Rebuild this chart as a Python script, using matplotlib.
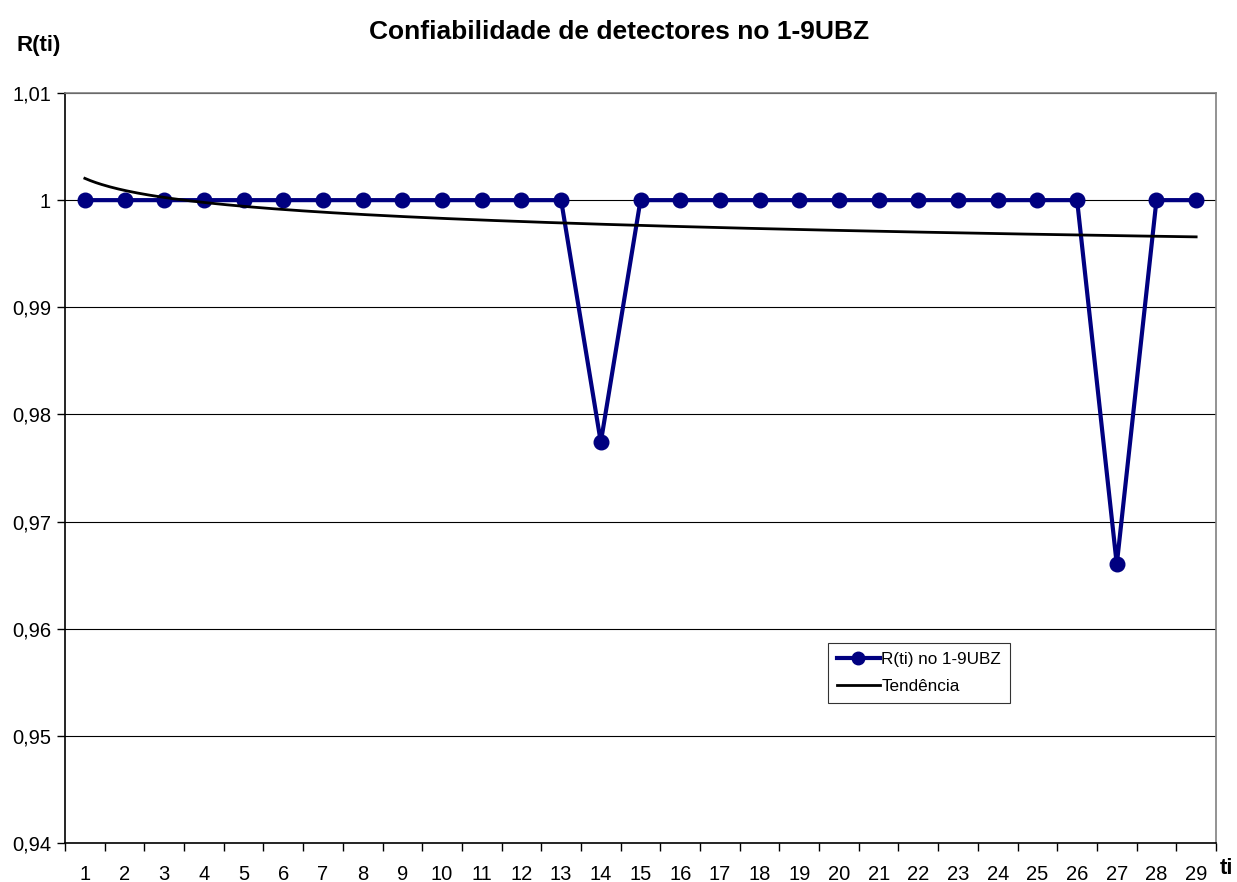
import numpy as np
import matplotlib
matplotlib.use("Agg")
import matplotlib.pyplot as plt
from matplotlib.ticker import FixedLocator, FuncFormatter

plt.rcParams['font.family'] = ['Liberation Sans', 'DejaVu Sans']

ti = list(range(1, 30))
r_values = [1, 1, 1, 1, 1, 1, 1, 1, 1, 1, 1, 1, 1, 0.9774, 1,
            1, 1, 1, 1, 1, 1, 1, 1, 1, 1, 1, 0.966, 1, 1]
title = "Confiabilidade de detectores no 1-9UBZ"
series_label = "R(ti) no 1-9UBZ"
trend_label = "Tendência"
y_ticks = [0.94, 0.95, 0.96, 0.97, 0.98, 0.99, 1.00, 1.01]

x = np.array(ti, dtype=float)
y = np.array(r_values, dtype=float)
# logarithmic trend line (Excel style)
b, a = np.polyfit(np.log(x), y, 1)
xt = np.linspace(1, 29, 400)
yt = a + b * np.log(xt)

fig = plt.figure(figsize=(12.37, 8.82), dpi=100)
ax = fig.add_axes([65/1237, 1 - 843/882, (1216 - 65)/1237, (843 - 93)/882])

ax.plot(x, y, color='#000080', lw=3.0, marker='o', ms=10.5, zorder=3, label=series_label)
ax.plot(xt, yt, color='black', lw=2.0, zorder=4, label=trend_label)

ax.set_xlim(0.5, 29.5)
ax.set_ylim(0.94, 1.01)
ax.yaxis.set_major_locator(FixedLocator(y_ticks))
ax.yaxis.set_major_formatter(FuncFormatter(lambda v, p: ('%g' % round(v, 2)).replace('.', ',')))
ax.set_xticks(ti)
ax.set_xticklabels([str(t) for t in ti])
ax.xaxis.set_minor_locator(FixedLocator(np.arange(0.5, 30, 1)))
ax.tick_params(axis='x', which='major', length=0, labelsize=14.5, pad=16)
ax.tick_params(axis='x', which='minor', length=6, width=1, direction='out')
ax.tick_params(axis='y', which='major', length=6, width=1, direction='out', labelsize=14.5, pad=4)

ax.grid(axis='y', color='black', lw=0.8)
ax.set_axisbelow(True)
for s in ['top', 'right']:
    ax.spines[s].set_color('#808080')
    ax.spines[s].set_linewidth(1.2)
for s in ['left', 'bottom']:
    ax.spines[s].set_color('black')
    ax.spines[s].set_linewidth(1.2)

fig.text(619/1237, 1 - 32/882, title, ha='center', va='center', fontsize=19, fontweight='bold')
fig.text(39/1237, 1 - 46/882, "R(ti)", ha='center', va='center', fontsize=16, fontweight='bold')
fig.text(1227/1237, 1 - 868/882, "ti", ha='center', va='center', fontsize=16, fontweight='bold')

leg = ax.legend(loc='upper left', bbox_to_anchor=((829 - 65)/1152, (843 - 643)/750),
                frameon=True, fancybox=False, edgecolor='black', fontsize=12.3,
                handlelength=2.5, handletextpad=0.1, borderpad=0.5, borderaxespad=0,
                labelspacing=0.75)
leg.get_frame().set_linewidth(0.8)
for h in leg.legend_handles:
    h.set_markersize(9)

fig.savefig("out.png", dpi=100)
